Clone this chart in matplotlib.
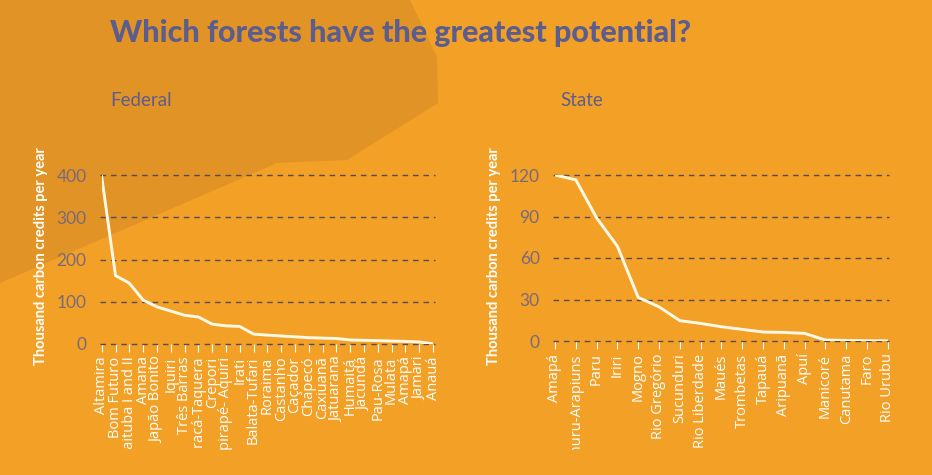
import matplotlib.pyplot as plt
from matplotlib.patches import Polygon
from matplotlib.transforms import Bbox, TransformedBbox

# Federal forests (thousand carbon credits per year)
federal_names = [
    "Altamira", "Bom Futuro", "Itaituba I and II", "Amana", "Japão Bonito",
    "Iquiri", "Três Barras", "Saracá-Taquera", "Crepori", "Tapirapé- Aquiri",
    "Irati", "Balata-Tufari", "Roraima", "Castanho", "Caçador", "Chapecó",
    "Caxiuanã", "Jatuarana", "Humaitá", "Jacundá", "Pau-Rosa", "Mulata",
    "Amapá", "Jamari", "Anauá",
]
federal_values = [
    396, 162, 144, 104, 88, 78, 68, 64, 47, 43, 41.5, 23.5, 21, 19, 17, 15,
    14, 13, 9.5, 8.7, 8, 7, 6.2, 4.7, 0.5,
]

# State forests
state_names = [
    "Amapá", "Mamuru-Arapiuns", "Paru", "Iriri", "Mogno", "Rio Gregório",
    "Sucunduri", "Rio Liberdade", "Maués", "Trombetas", "Tapauá", "Aripuanã",
    "Apuí", "Manicoré", "Canutama", "Faro", "Rio Urubu",
]
state_values = [
    120, 116.5, 89, 68.5, 31.5, 24.7, 14.7, 12.7, 10.3, 8.4, 6.5, 6.2, 5.5,
    0.7, 0.4, 0.2, 0.1,
]

federal_ticks = [0, 100, 200, 300, 400]
state_ticks = [0, 30, 60, 90, 120]

bg = "#F3A027"
dark = "#E29325"
purple = "#5C5D8F"
tick_grey = "#7A6A78"
line_col = "#FFF9E6"

W, H = 932, 475
fig = plt.figure(figsize=(W / 100, H / 100), dpi=100)
fig.patch.set_facecolor(bg)

# darker background shape in the upper left
shape = [(0, 0), (410, 0), (437, 57), (438, 103), (347, 160), (277, 163), (0, 283)]
fig.patches.append(Polygon([(x / W, 1 - y / H) for x, y in shape], closed=True,
                           transform=fig.transFigure, facecolor=dark,
                           edgecolor="none", zorder=-5))

fig.text(110 / W, 1 - 33 / H, "Which forests have the greatest potential?",
         fontsize=22, fontweight="black", color=purple, family="Lato",
         va="center", ha="left")
fig.text(110 / W, 1 - 101 / H, "Federal", fontsize=13.5, color=purple,
         family="Lato", va="center")
fig.text(560 / W, 1 - 101 / H, "State", fontsize=13.5, color=purple,
         family="Lato", va="center")

clip = TransformedBbox(Bbox.from_extents(0, 25 / H, 1, 1), fig.transFigure)


def draw_panel(rect, names, values, yticks, ylab_x):
    ax = fig.add_axes(rect)
    ax.set_facecolor("none")
    x = list(range(len(names)))
    for t in yticks:
        ax.axhline(t, color="#574B55", lw=1, ls=(0, (4, 3.5)), clip_on=False,
                   xmin=-0.005, xmax=1.005)
    ax.plot(x, values, color=line_col, lw=2.1, solid_joinstyle="round", zorder=3)
    ax.set_xlim(0, len(names) - 1)
    ax.set_ylim(0, yticks[-1])
    for s in ax.spines.values():
        s.set_visible(False)
    ax.set_yticks(yticks)
    ax.set_yticklabels([str(t) for t in yticks], family="Lato", fontsize=12.5,
                       color=tick_grey)
    ax.tick_params(axis="y", length=0, pad=11)
    ax.set_xticks(x)
    ax.set_xticklabels(names, rotation=90, family="Open Sans", fontsize=10.5,
                       color="white")
    ax.tick_params(axis="x", length=6, color="white", width=0.8, pad=3)
    for lbl in ax.get_xticklabels():
        lbl.set_clip_on(True)
        lbl.set_clip_box(clip)
    fig.text(ylab_x / W, 1 - 256 / H, "Thousand carbon credits per year",
             rotation=90, fontsize=10.5, fontweight="bold", color="white",
             family="Lato", ha="center", va="center")
    return ax


draw_panel([101.7 / W, 1 - 344 / H, 331.3 / W, 169 / H],
           federal_names, federal_values, federal_ticks, 41)
draw_panel([555 / W, 1 - 341 / H, 332.8 / W, 166 / H],
           state_names, state_values, state_ticks, 494)

fig.savefig("out.png", dpi=100, facecolor=fig.get_facecolor())
